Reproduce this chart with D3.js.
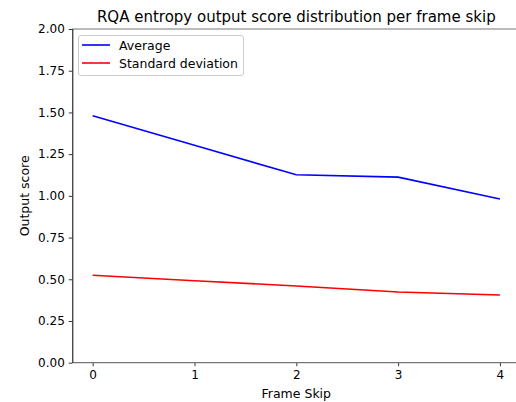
<!DOCTYPE html>
<html>
<head>
<meta charset="utf-8">
<script src="https://cdn.jsdelivr.net/npm/d3@7"></script>
<style>
  body { margin: 0; background: #fff; }
  text { font-family: "DejaVu Sans", sans-serif; fill: #000; }
</style>
</head>
<body>
<div id="chart"></div>
<script>
const frameSkips = [0, 1, 2, 3, 4];
const averageScores = [1.480, 1.303, 1.126, 1.112, 0.981];
const stdScores = [0.524, 0.491, 0.460, 0.424, 0.406];
const yTicks = [0, 0.25, 0.5, 0.75, 1.0, 1.25, 1.5, 1.75, 2.0];

const W = 516, H = 402;
const margin = { top: 29, left: 72.3 };
const plotW = 448, plotH = 333.7;

const svg = d3.select("#chart").append("svg")
    .attr("width", W)
    .attr("height", H);

const g = svg.append("g")
    .attr("transform", `translate(${margin.left},${margin.top})`);

const x = d3.scaleLinear().domain([-0.2, 4.2]).range([0, plotW]);
const y = d3.scaleLinear().domain([0, 2]).range([plotH, 0]);

// axes
const xAxis = g.append("g")
    .attr("transform", `translate(0,${plotH})`)
    .call(d3.axisBottom(x).tickValues(frameSkips).tickFormat(d3.format("d")).tickSize(3.5).tickPadding(4));
const yAxis = g.append("g")
    .call(d3.axisLeft(y).tickValues(yTicks).tickFormat(d3.format(".2f")).tickSize(3.5).tickPadding(4));

[xAxis, yAxis].forEach(a => {
  a.select(".domain").remove();
  a.selectAll(".tick line").attr("stroke", "#000").attr("stroke-width", 0.8);
  a.selectAll(".tick text").style("font-size", "12px").style("font-family", "DejaVu Sans");
});

// spines
g.append("line").attr("x1", 0).attr("x2", plotW).attr("y1", 0).attr("y2", 0)
    .attr("stroke", "#777").attr("stroke-width", 1.2);
g.append("line").attr("x1", 0).attr("x2", plotW).attr("y1", plotH).attr("y2", plotH)
    .attr("stroke", "#777").attr("stroke-width", 1.2);
g.append("line").attr("x1", 0.5).attr("x2", 0.5).attr("y1", 0).attr("y2", plotH)
    .attr("stroke", "#000").attr("stroke-width", 1);

// lines
const line = d3.line().x((d, i) => x(frameSkips[i])).y(d => y(d));
g.append("path").datum(averageScores).attr("d", line)
    .attr("fill", "none").attr("stroke", "#0000ff").attr("stroke-width", 1.6);
g.append("path").datum(stdScores).attr("d", line)
    .attr("fill", "none").attr("stroke", "#ff0000").attr("stroke-width", 1.6);

// title and labels
svg.append("text")
    .attr("x", margin.left + plotW / 2).attr("y", 22)
    .attr("text-anchor", "middle")
    .style("font-size", "15px")
    .text("RQA entropy output score distribution per frame skip");

svg.append("text")
    .attr("x", margin.left + x(2)).attr("y", 398)
    .attr("text-anchor", "middle")
    .style("font-size", "12.5px")
    .text("Frame Skip");

svg.append("text")
    .attr("transform", `translate(29,${margin.top + plotH / 2}) rotate(-90)`)
    .attr("text-anchor", "middle")
    .style("font-size", "12.5px")
    .text("Output score");

// legend
const legendItems = [
  { label: "Average", color: "#0000ff" },
  { label: "Standard deviation", color: "#ff0000" }
];
const legend = svg.append("g").attr("transform", "translate(78,35)");
legend.append("rect")
    .attr("x", 0.5).attr("y", 0.5).attr("width", 165).attr("height", 40)
    .attr("rx", 2.5)
    .attr("fill", "#fff").attr("fill-opacity", 0.8)
    .attr("stroke", "#ccc").attr("stroke-width", 1);
legendItems.forEach((d, i) => {
  const row = legend.append("g").attr("transform", `translate(0,${10 + i * 18})`);
  row.append("line").attr("x1", 4).attr("x2", 32).attr("y1", 0).attr("y2", 0)
      .attr("stroke", d.color).attr("stroke-width", 1.6);
  row.append("text").attr("x", 41).attr("y", 4.5)
      .style("font-size", "12.5px")
      .text(d.label);
});
</script>
</body>
</html>
